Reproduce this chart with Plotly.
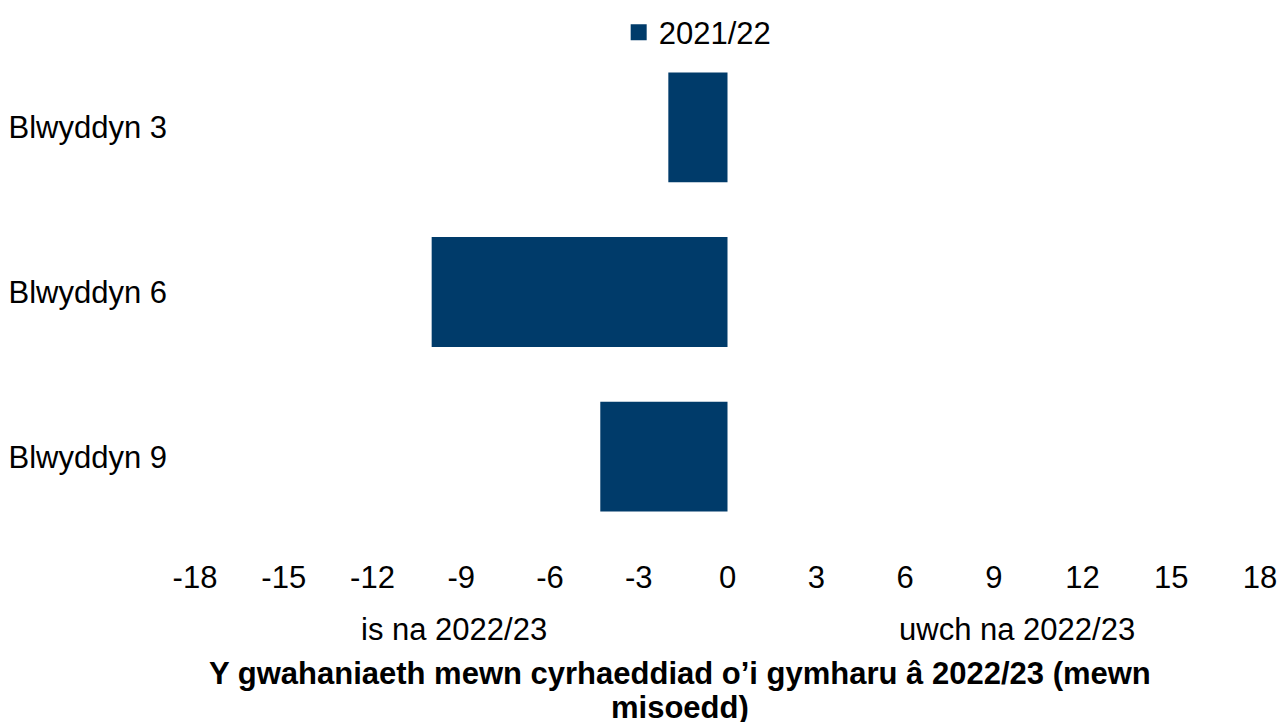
import plotly.graph_objects as go

categories = ["Blwyddyn 3", "Blwyddyn 6", "Blwyddyn 9"]
values = [-2.0, -10.0, -4.3]
series_name = "2021/22"
tick_vals = [-18, -15, -12, -9, -6, -3, 0, 3, 6, 9, 12, 15, 18]
label_lower = "is na 2022/23"
label_higher = "uwch na 2022/23"
axis_title_lines = ["Y gwahaniaeth mewn cyrhaeddiad o\u2019i gymharu \u00e2 2022/23 (mewn", "misoedd)"]

FONT = "Liberation Sans, Arial, sans-serif"
COLOR = "#003B6A"
FS = 31

fig = go.Figure()
fig.add_trace(go.Bar(
    y=categories, x=values, orientation="h", name=series_name,
    marker=dict(color=COLOR, line=dict(width=0)),
    showlegend=False,
))
# legend entry with a larger square swatch
fig.add_trace(go.Scatter(
    x=[None], y=[None], mode="markers", name=series_name,
    marker=dict(symbol="square", size=16, color=COLOR),
    showlegend=True,
))

title_ys = [-0.2727, -0.3404]
annotations = [
    dict(text=label_lower, xref="paper", yref="paper", x=0.243, y=-0.183,
         showarrow=False, xanchor="center", yanchor="middle", font=dict(size=FS)),
    dict(text=label_higher, xref="paper", yref="paper", x=0.772, y=-0.183,
         showarrow=False, xanchor="center", yanchor="middle", font=dict(size=FS)),
]
for line, yy in zip(axis_title_lines, title_ys):
    annotations.append(dict(text="<b>" + line + "</b>", xref="paper", yref="paper", x=0.455, y=yy,
                            showarrow=False, xanchor="center", yanchor="middle", font=dict(size=FS)))

fig.update_layout(
    width=1278, height=722,
    margin=dict(l=195, r=18, t=44.5, b=182.5, autoexpand=False),
    paper_bgcolor="white", plot_bgcolor="white",
    font=dict(family=FONT, size=FS, color="#000000"),
    bargap=0.333,
    showlegend=True,
    legend=dict(orientation="h", x=0.472, xanchor="center", y=1.025, yanchor="middle",
                font=dict(size=FS), itemwidth=30, bgcolor="rgba(0,0,0,0)"),
    xaxis=dict(range=[-18, 18], tickvals=tick_vals, ticktext=[str(v) for v in tick_vals],
               showgrid=False, zeroline=False, showline=False, ticks="",
               ticklabelstandoff=17, tickfont=dict(size=FS), automargin=False),
    yaxis=dict(categoryorder="array", categoryarray=categories[::-1],
               showgrid=False, zeroline=False, showline=False, ticks="",
               ticklabelstandoff=27, tickfont=dict(size=FS), automargin=False),
    annotations=annotations,
)

fig.write_html(
    "out.html",
    config={"displayModeBar": False},
    post_script="document.body.style.margin='0';document.body.style.overflow='hidden';",
)
